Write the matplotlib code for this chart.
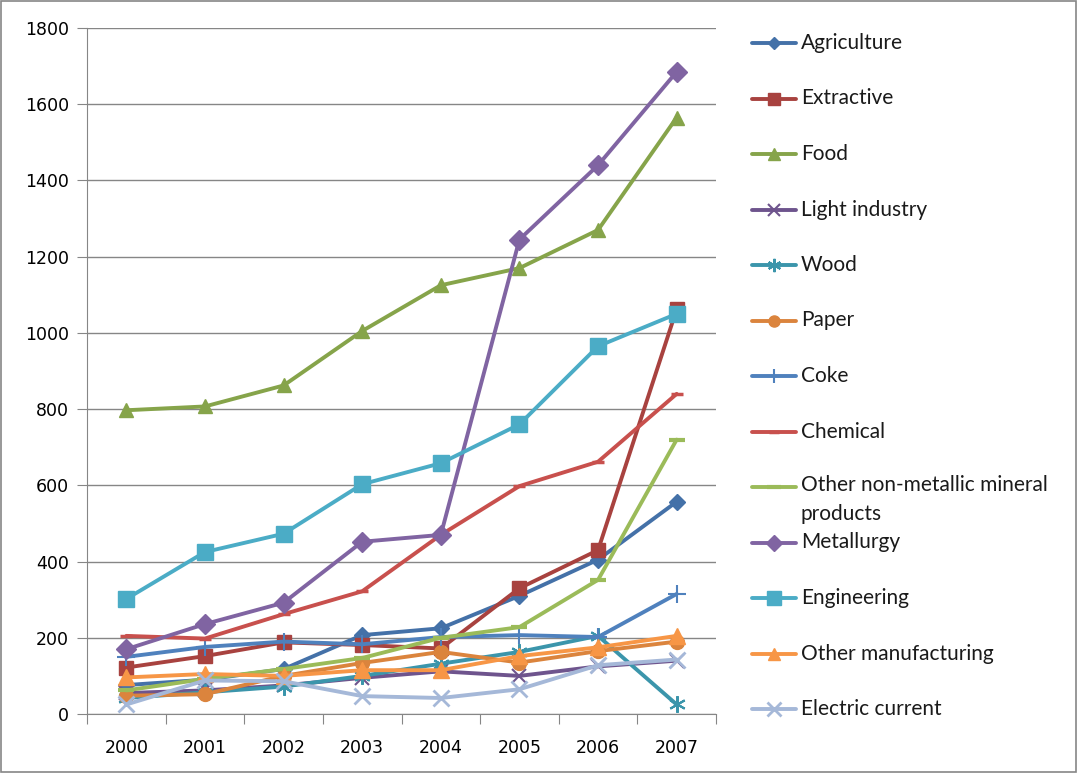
import matplotlib
matplotlib.use("Agg")
import matplotlib.pyplot as plt
from matplotlib.lines import Line2D
from matplotlib.patches import Rectangle

years = [2000, 2001, 2002, 2003, 2004, 2005, 2006, 2007]

agriculture = [76, 90, 118, 207, 225, 310, 405, 557]
extractive = [122, 152, 188, 181, 172, 330, 430, 1062]
food = [797, 807, 862, 1005, 1125, 1170, 1270, 1565]
light_industry = [55, 62, 75, 95, 112, 100, 125, 140]
wood = [42, 57, 72, 100, 132, 163, 205, 25]
paper = [48, 52, 100, 134, 163, 135, 165, 190]
coke = [150, 176, 190, 183, 202, 207, 202, 315]
chemical = [205, 198, 262, 322, 470, 598, 662, 840]
other_nonmetal = [62, 92, 118, 147, 200, 228, 352, 720]
metallurgy = [170, 236, 292, 452, 470, 1245, 1440, 1685]
engineering = [302, 425, 473, 603, 658, 760, 965, 1050]
other_manuf = [96, 105, 100, 115, 115, 152, 175, 205]
electric = [25, 88, 86, 47, 42, 65, 128, 143]

labels = ['Agriculture', 'Extractive', 'Food', 'Light industry', 'Wood', 'Paper',
          'Coke', 'Chemical', 'Other non-metallic mineral\nproducts', 'Metallurgy',
          'Engineering', 'Other manufacturing', 'Electric current']
series = [agriculture, extractive, food, light_industry, wood, paper, coke,
          chemical, other_nonmetal, metallurgy, engineering, other_manuf, electric]

# colour, marker, marker size, marker edge width
styles = [
    ('#4471A8', 'D', 8, 1),
    ('#A8423F', 's', 10, 1),
    ('#86A44A', '^', 10, 1),
    ('#6E548D', 'x', 10, 1.5),
    ('#3B95AB', (6, 2, 0), 12, 1.5),
    ('#DB843D', 'o', 10, 1),
    ('#4F81BD', '+', 13, 1.5),
    ('#C8504D', '_', 9, 2.5),
    ('#9BBB59', '_', 12, 3),
    ('#8064A2', 'D', 10, 1),
    ('#4BACC6', 's', 12, 1),
    ('#F79646', '^', 11, 1),
    ('#A5B8D8', 'x', 12, 2),
]

fig = plt.figure(figsize=(10.77, 7.73), dpi=100)
ax = fig.add_axes([0.0808, 0.0763, 0.584, 0.8875])

for vals, lab, (col, mk, ms, mew) in zip(series, labels, styles):
    ax.plot(years, vals, color=col, lw=2.8, marker=mk, markersize=ms,
            markeredgewidth=mew, markeredgecolor=col, markerfacecolor=col,
            label=lab, solid_capstyle='round')

ax.set_xlim(1999.5, 2007.5)
ax.set_ylim(0, 1800)
ax.set_yticks(range(0, 1801, 200))
ax.set_xticks([y + 0.5 for y in years[:-1]] + [1999.5, 2007.5])
ax.set_xticks(years, minor=True)
ax.set_xticklabels([])
ax.set_xticklabels([str(y) for y in years], minor=True)
ax.tick_params(axis='x', which='major', length=7, color='#868686')
ax.tick_params(axis='x', which='minor', length=0, pad=18, labelsize=12.5)
ax.tick_params(axis='y', length=7, color='#868686', labelsize=12.5, pad=6)
ax.grid(axis='y', color='#868686', lw=1)
ax.set_axisbelow(True)
for s in ['top', 'right']:
    ax.spines[s].set_visible(False)
for s in ['left', 'bottom']:
    ax.spines[s].set_color('#868686')

# legend drawn by hand to match spacing of the original
W, H = 1077, 773
for i, (lab, (col, mk, ms, mew)) in enumerate(zip(labels, styles)):
    yp = 43 + i * 55.5
    yf = 1 - yp / H
    fig.add_artist(Line2D([752 / W, 796 / W], [yf, yf], color=col, lw=2.8,
                          solid_capstyle='round', transform=fig.transFigure))
    fig.add_artist(Line2D([774 / W], [yf], color=col, marker=mk,
                          markersize=ms * 0.8, markeredgewidth=mew,
                          markeredgecolor=col, markerfacecolor=col,
                          transform=fig.transFigure))
    if '\n' in lab:
        fig.text(801 / W, yf + 12 / H, lab, fontsize=15, family='Lato', va='top',
                 ha='left', color='#1a1a1a', linespacing=1.55)
    else:
        fig.text(801 / W, yf, lab, fontsize=15, family='Lato', va='center',
                 ha='left', color='#1a1a1a')

fig.add_artist(Rectangle((0.001, 0.001), 0.998, 0.998, fill=False,
                         edgecolor='#868686', lw=1.2, transform=fig.transFigure))

fig.savefig('out.png', dpi=100)
